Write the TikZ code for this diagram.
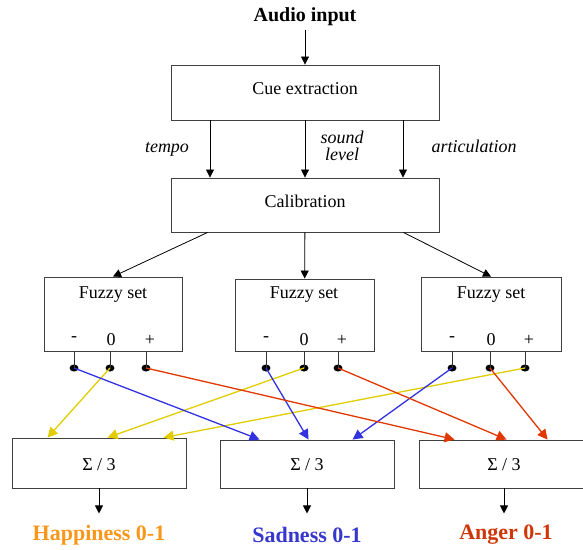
\documentclass[tikz,border=0pt]{standalone}
\usepackage{fontspec}
\setmainfont{Liberation Serif}
\usetikzlibrary{arrows.meta,shapes.geometric}

\definecolor{happy_orange}{RGB}{250,150,25}
\definecolor{sad_blue}{RGB}{55,55,205}
\definecolor{anger_red}{RGB}{205,55,10}
\definecolor{line_yellow}{RGB}{225,205,0}
\definecolor{line_blue}{RGB}{50,50,225}
\definecolor{line_red}{RGB}{225,55,0}

\begin{document}
\begin{tikzpicture}[
    % One unit is one pixel of the reference, y grows downwards
    x=1pt, y=-1pt,
    % Define styles for the elements
    box_style/.style={draw=black!75, line width=0.9pt, inner sep=0pt},
    text_style/.style={font=\fontsize{18}{20}\selectfont},
    label_style/.style={font=\fontsize{18}{17}\selectfont\itshape, align=center},
    title_style/.style={font=\fontsize{20}{22}\selectfont\bfseries},
    result_style/.style={font=\fontsize{22}{24}\selectfont\bfseries},
    arrow_style/.style={draw=black, line width=0.8pt, -{Triangle[width=8pt,length=8pt]}},
    pin_style/.style={draw=black!80, line width=0.9pt},
    dot_style/.style={ellipse, fill=black, minimum width=9pt, minimum height=7pt, inner sep=0pt},
    yellow_arrow/.style={draw=line_yellow, line width=1.3pt, -{Triangle[width=10pt,length=10pt]}},
    blue_arrow/.style={draw=line_blue, line width=1.3pt, -{Triangle[width=10pt,length=10pt]}},
    red_arrow/.style={draw=line_red, line width=1.3pt, -{Triangle[width=10pt,length=10pt]}}
  ]

  % --- Step 1: Fix the frame of the whole picture ---
  \useasboundingbox (0,0) rectangle (583,549);

  % --- Step 2: Input, cue extraction and calibration ---
  \node[title_style] (audio) at (305,17) {Audio input};
  \node[box_style, minimum width=268pt, minimum height=55pt] (cue) at (305,92.5) {};
  \node[text_style] (cue_text) at (305,89) {Cue extraction};
  \node[box_style, minimum width=268pt, minimum height=54pt] (cal) at (305,205) {};
  \node[text_style] (cal_text) at (305,201) {Calibration};

  \draw[arrow_style] (audio) -- (cue);
  \draw[arrow_style] ([xshift=-95pt]cue.south) -- ([xshift=-95pt]cal.north);
  \draw[arrow_style] (cue) -- (cal);
  \draw[arrow_style] ([xshift=98pt]cue.south) -- ([xshift=98pt]cal.north);

  % The three cues
  \node[label_style] (tempo) at (167,149) {tempo};
  \node[label_style, inner sep=0pt] (sound) at (342,146) {sound\\level};
  \node[label_style] (artic) at (474,146) {articulation};

  % --- Step 3: The three fuzzy sets ---
  \node[box_style, minimum width=138pt, minimum height=74pt] (fz1) at (113,314) {};
  \node[box_style, minimum width=139pt, minimum height=72pt] (fz2) at (304.5,315) {};
  \node[box_style, minimum width=140pt, minimum height=74pt] (fz3) at (491,314) {};

  \draw[arrow_style] ([xshift=37pt]cal.south west) -- (fz1.north);
  \draw[arrow_style] (cal) -- (fz2);
  \draw[arrow_style] ([xshift=-36pt]cal.south east) -- (fz3.north);

  \node[text_style] (fz1_text) at (113,295) {Fuzzy set};
  \node[text_style] (fz2_text) at (304,295) {Fuzzy set};
  \node[text_style] (fz3_text) at (491,295) {Fuzzy set};

  % Signs and output pins of each fuzzy set
  \node[text_style] (s1m) at (74,339) {-};
  \node[text_style] (s1z) at (111,340) {0};
  \node[text_style] (s1p) at (150,340) {+};
  \node[text_style] (s2m) at (266,339) {-};
  \node[text_style] (s2z) at (304,340) {0};
  \node[text_style] (s2p) at (342,340) {+};
  \node[text_style] (s3m) at (452,339) {-};
  \node[text_style] (s3z) at (491,340) {0};
  \node[text_style] (s3p) at (529,340) {+};

  \node[dot_style] (d1m) at (74,368) {};
  \node[dot_style] (d1z) at (110,368) {};
  \node[dot_style] (d1p) at (146,368) {};
  \node[dot_style] (d2m) at (266,368) {};
  \node[dot_style] (d2z) at (304,368) {};
  \node[dot_style] (d2p) at (338,368) {};
  \node[dot_style] (d3m) at (452,368) {};
  \node[dot_style] (d3z) at (490,368) {};
  \node[dot_style] (d3p) at (525,368) {};

  \draw[pin_style] (fz1.south -| d1m) -- (d1m.center);
  \draw[pin_style] (fz1.south -| d1z) -- (d1z.center);
  \draw[pin_style] (fz1.south -| d1p) -- (d1p.center);
  \draw[pin_style] (fz2.south -| d2m) -- (d2m.center);
  \draw[pin_style] (fz2.south -| d2z) -- (d2z.center);
  \draw[pin_style] (fz2.south -| d2p) -- (d2p.center);
  \draw[pin_style] (fz3.south -| d3m) -- (d3m.center);
  \draw[pin_style] (fz3.south -| d3z) -- (d3z.center);
  \draw[pin_style] (fz3.south -| d3p) -- (d3p.center);

  % --- Step 4: The three sums ---
  \node[box_style, minimum width=174pt, minimum height=50pt] (sum1) at (99,463) {};
  \node[box_style, minimum width=174pt, minimum height=48pt] (sum2) at (307,464) {};
  \node[box_style, minimum width=170pt, minimum height=48pt] (sum3) at (504,464) {};

  \node[text_style] (sum1_text) at (99,465) {Σ / 3};
  \node[text_style] (sum2_text) at (307,465) {Σ / 3};
  \node[text_style] (sum3_text) at (504,465) {Σ / 3};

  % Yellow goes to happiness, blue to sadness, red to anger
  \draw[yellow_arrow] (d1z.center) -- ([xshift=36pt]sum1.north west);
  \draw[yellow_arrow] (d2z.center) -- ([xshift=96pt]sum1.north west);
  \draw[yellow_arrow] (d3p.center) -- ([xshift=152pt]sum1.north west);
  \draw[blue_arrow] (d1m.center) -- ([xshift=40pt]sum2.north west);
  \draw[blue_arrow] (d2m.center) -- ([xshift=89pt]sum2.north west);
  \draw[blue_arrow] (d3m.center) -- ([xshift=133pt]sum2.north west);
  \draw[red_arrow] (d1p.center) -- ([xshift=36pt]sum3.north west);
  \draw[red_arrow] (d2p.center) -- ([xshift=88pt]sum3.north west);
  \draw[red_arrow] (d3z.center) -- ([xshift=129pt]sum3.north west);

  % --- Step 5: The results ---
  \node[result_style, text=happy_orange] (happy) at (99,535) {Happiness 0-1};
  \node[result_style, text=sad_blue] (sad) at (307,535) {Sadness 0-1};
  \node[result_style, text=anger_red] (anger) at (506,535) {Anger 0-1};

  \draw[arrow_style] (sum1.south) -- ([yshift=-25pt]sum1.south);
  \draw[arrow_style] (sum2.south) -- ([yshift=-25pt]sum2.south);
  \draw[arrow_style] (sum3.south) -- ([yshift=-25pt]sum3.south);

\end{tikzpicture}
\end{document}
